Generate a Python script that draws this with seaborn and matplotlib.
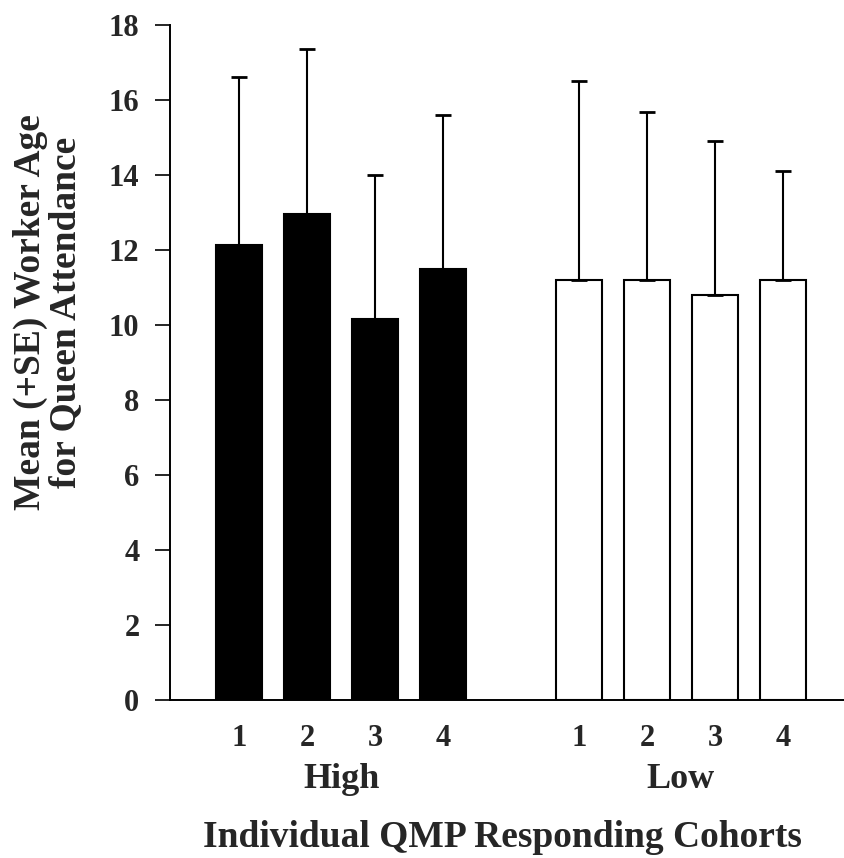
import numpy as np
import pandas as pd
import matplotlib
matplotlib.use("Agg")
import matplotlib.pyplot as plt
import seaborn as sns

# Mean worker age (+SE) for queen attendance, by QMP responder group and cohort
groups = ["High", "Low"]
cohorts = ["1", "2", "3", "4"]
high_mean = [12.13, 12.97, 10.17, 11.50]
high_se = [4.49, 4.39, 3.82, 4.09]
low_mean = [11.19, 11.19, 10.79, 11.19]
low_se = [5.32, 4.50, 4.12, 2.92]
y_ticks = [0, 2, 4, 6, 8, 10, 12, 14, 16, 18]

sns.set_style("ticks")
plt.rcParams["font.family"] = ["Liberation Serif", "DejaVu Serif"]
plt.rcParams["font.weight"] = "bold"
plt.rcParams["axes.labelweight"] = "bold"

rows = []
for g, means, ses in [("High", high_mean, high_se), ("Low", low_mean, low_se)]:
    for c, m, s in zip(cohorts, means, ses):
        rows.append({"group": g, "cohort": c, "slot": f"{g}-{c}", "mean": m, "se": s})
df = pd.DataFrame(rows)

# an empty slot separates the two groups
order = [f"High-{c}" for c in cohorts] + ["gap"] + [f"Low-{c}" for c in cohorts]

fig = plt.figure(figsize=(8.44, 8.58), dpi=100)
ax = fig.add_axes([170 / 844, 158 / 858, 674 / 844, 675 / 858])

sns.barplot(
    data=df, x="slot", y="mean", hue="group", order=order, hue_order=groups,
    palette={"High": "black", "Low": "white"}, edgecolor="black",
    linewidth=1.5, width=0.68, errorbar=None, legend=False, ax=ax,
)

pos = np.array([order.index(s) for s in df["slot"]])
ax.errorbar(
    pos, df["mean"], yerr=[np.zeros(len(df)), df["se"]], fmt="none",
    ecolor="black", elinewidth=1.5, capsize=6, capthick=2, zorder=3,
)

ax.set_xlim(-1.02, 8.90)
ax.set_ylim(0, 18)
ax.set_yticks(y_ticks)
ax.set_yticklabels([str(t) for t in y_ticks])
tick_pos = [i for i, s in enumerate(order) if s != "gap"]
ax.set_xticks(tick_pos)
ax.set_xticklabels(cohorts * 2)

ax.tick_params(axis="y", length=11, width=1.4, pad=11, labelsize=22, direction="out")
ax.tick_params(axis="x", length=0, pad=17, labelsize=22)
for side in ["left", "bottom"]:
    ax.spines[side].set_linewidth(1.4)
    ax.spines[side].set_color("black")
sns.despine(ax=ax)

for g in groups:
    centre = np.mean([order.index(f"{g}-{c}") for c in cohorts])
    ax.annotate(g, xy=(centre, 0), xycoords=("data", "axes fraction"),
                xytext=(0, -57.6), textcoords="offset points",
                ha="center", va="center", fontsize=26, fontweight="bold")

ax.set_xlabel("Individual QMP Responding Cohorts", fontsize=27, fontweight="bold", va="center")
ax.xaxis.set_label_coords(0.493, -0.204)
ax.set_ylabel("Mean (+SE) Worker Age\nfor Queen Attendance", fontsize=27,
              fontweight="bold", va="center", linespacing=1.0)
ax.yaxis.set_label_coords(-0.181, 0.575)

fig.savefig("out.png", dpi=100, facecolor="white")
